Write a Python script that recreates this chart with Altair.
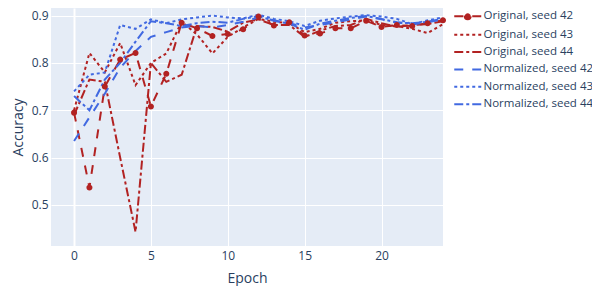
import altair as alt
import pandas as pd

epochs = list(range(25))

orig_42 = [0.695, 0.537, 0.750, 0.807, 0.821, 0.708, 0.777, 0.885, 0.873, 0.857,
           0.861, 0.871, 0.898, 0.879, 0.886, 0.858, 0.862, 0.873, 0.873, 0.889,
           0.876, 0.880, 0.878, 0.884, 0.890]
orig_43 = [0.700, 0.821, 0.780, 0.842, 0.753, 0.800, 0.820, 0.887, 0.860, 0.820,
           0.855, 0.875, 0.893, 0.887, 0.884, 0.865, 0.872, 0.885, 0.888, 0.890,
           0.880, 0.878, 0.872, 0.863, 0.882]
orig_44 = [0.690, 0.765, 0.760, 0.600, 0.443, 0.800, 0.760, 0.775, 0.878, 0.876,
           0.866, 0.885, 0.892, 0.880, 0.880, 0.855, 0.868, 0.878, 0.880, 0.893,
           0.884, 0.876, 0.880, 0.882, 0.888]
norm_42 = [0.635, 0.685, 0.735, 0.790, 0.825, 0.855, 0.865, 0.875, 0.878, 0.875,
           0.880, 0.887, 0.896, 0.890, 0.884, 0.875, 0.880, 0.886, 0.892, 0.898,
           0.892, 0.886, 0.881, 0.886, 0.892]
norm_43 = [0.740, 0.775, 0.780, 0.880, 0.872, 0.892, 0.884, 0.892, 0.896, 0.900,
           0.896, 0.894, 0.902, 0.893, 0.888, 0.878, 0.889, 0.894, 0.898, 0.901,
           0.898, 0.893, 0.882, 0.890, 0.896]
norm_44 = [0.730, 0.700, 0.765, 0.800, 0.845, 0.888, 0.884, 0.878, 0.884, 0.887,
           0.885, 0.893, 0.899, 0.889, 0.883, 0.870, 0.883, 0.889, 0.895, 0.899,
           0.893, 0.885, 0.884, 0.887, 0.893]

series_names = ["Original, seed 42", "Original, seed 43", "Original, seed 44",
                "Normalized, seed 42", "Normalized, seed 43", "Normalized, seed 44"]
series_values = [orig_42, orig_43, orig_44, norm_42, norm_43, norm_44]
series_colors = ["#B22222", "#B22222", "#B22222", "#4169E1", "#4169E1", "#4169E1"]
series_dashes = [[9, 9], [3, 3], [9, 3, 3, 3], [9, 9], [3, 3], [9, 3, 3, 3]]
marker_series = "Original, seed 42"
x_ticks = [0, 5, 10, 15, 20]
y_ticks = [0.5, 0.6, 0.7, 0.8, 0.9]

rows = []
for i, (name, vals) in enumerate(zip(series_names, series_values)):
    for e, v in zip(epochs, vals):
        rows.append({"Epoch": e, "Accuracy": v, "series": name, "idx": i})
df = pd.DataFrame(rows)

font = "Open Sans"
txt = "#2a3f5f"

line_path = "M-3,0L3,0"
dot_path = "M-3,0L3,0M-0.67,0A0.67,0.67 0 1,0 0.67,0A0.67,0.67 0 1,0 -0.67,0"
series_shapes = [dot_path if n == marker_series else line_path for n in series_names]

legend = alt.Legend(
    title=None, orient="none", legendX=411, legendY=2.5,
    symbolSize=81, symbolStrokeWidth=2,
    labelFont=font, labelFontSize=11.5, labelColor=txt,
    rowPadding=4.4, labelOffset=10, labelLimit=200,
)

x_enc = alt.X("Epoch:Q",
              scale=alt.Scale(domain=[-1.5, 24], nice=False, zero=False),
              axis=alt.Axis(values=x_ticks, title="Epoch", labelPadding=4,
                            titlePadding=10,
                            gridWidth={"condition": {"test": "datum.value === 0", "value": 2}, "value": 1}))
y_enc = alt.Y("Accuracy:Q",
              scale=alt.Scale(domain=[0.4133, 0.916], nice=False, zero=False),
              axis=alt.Axis(values=y_ticks, format=".1f", title="Accuracy",
                            labelPadding=3, titlePadding=6))

color_enc = alt.Color("series:N",
                      scale=alt.Scale(domain=series_names, range=series_colors),
                      legend=legend)
dash_enc = alt.StrokeDash("series:N",
                          scale=alt.Scale(domain=series_names, range=series_dashes),
                          legend=legend)
shape_enc = alt.Shape("series:N",
                      scale=alt.Scale(domain=series_names, range=series_shapes),
                      legend=legend)

lines = alt.Chart(df).mark_line(strokeWidth=2).encode(
    x=x_enc,
    y=y_enc,
    color=color_enc,
    strokeDash=dash_enc,
    detail="series:N",
    order="Epoch:Q",
)

points = alt.Chart(df).transform_filter(
    alt.datum.series == marker_series
).mark_point(filled=True, size=81, opacity=1, strokeWidth=0).encode(
    x="Epoch:Q",
    y="Accuracy:Q",
    color=color_enc,
    strokeDash=dash_enc,
    shape=shape_enc,
)

chart = alt.layer(lines, points).properties(
    width=392,
    height=238,
    autosize=alt.AutoSizeParams(type="none"),
    padding={"left": 43, "top": 0, "right": 149, "bottom": 40},
).configure_view(
    fill="#E5ECF6", stroke=None
).configure_axis(
    domain=False, ticks=False, grid=True, gridColor="white",
    labelFont=font, labelFontSize=12, labelColor=txt,
    titleFont=font, titleFontSize=14, titleColor=txt, titleFontWeight="normal",
)

chart.save("out.html", embed_options={"renderer": "svg", "actions": False})
